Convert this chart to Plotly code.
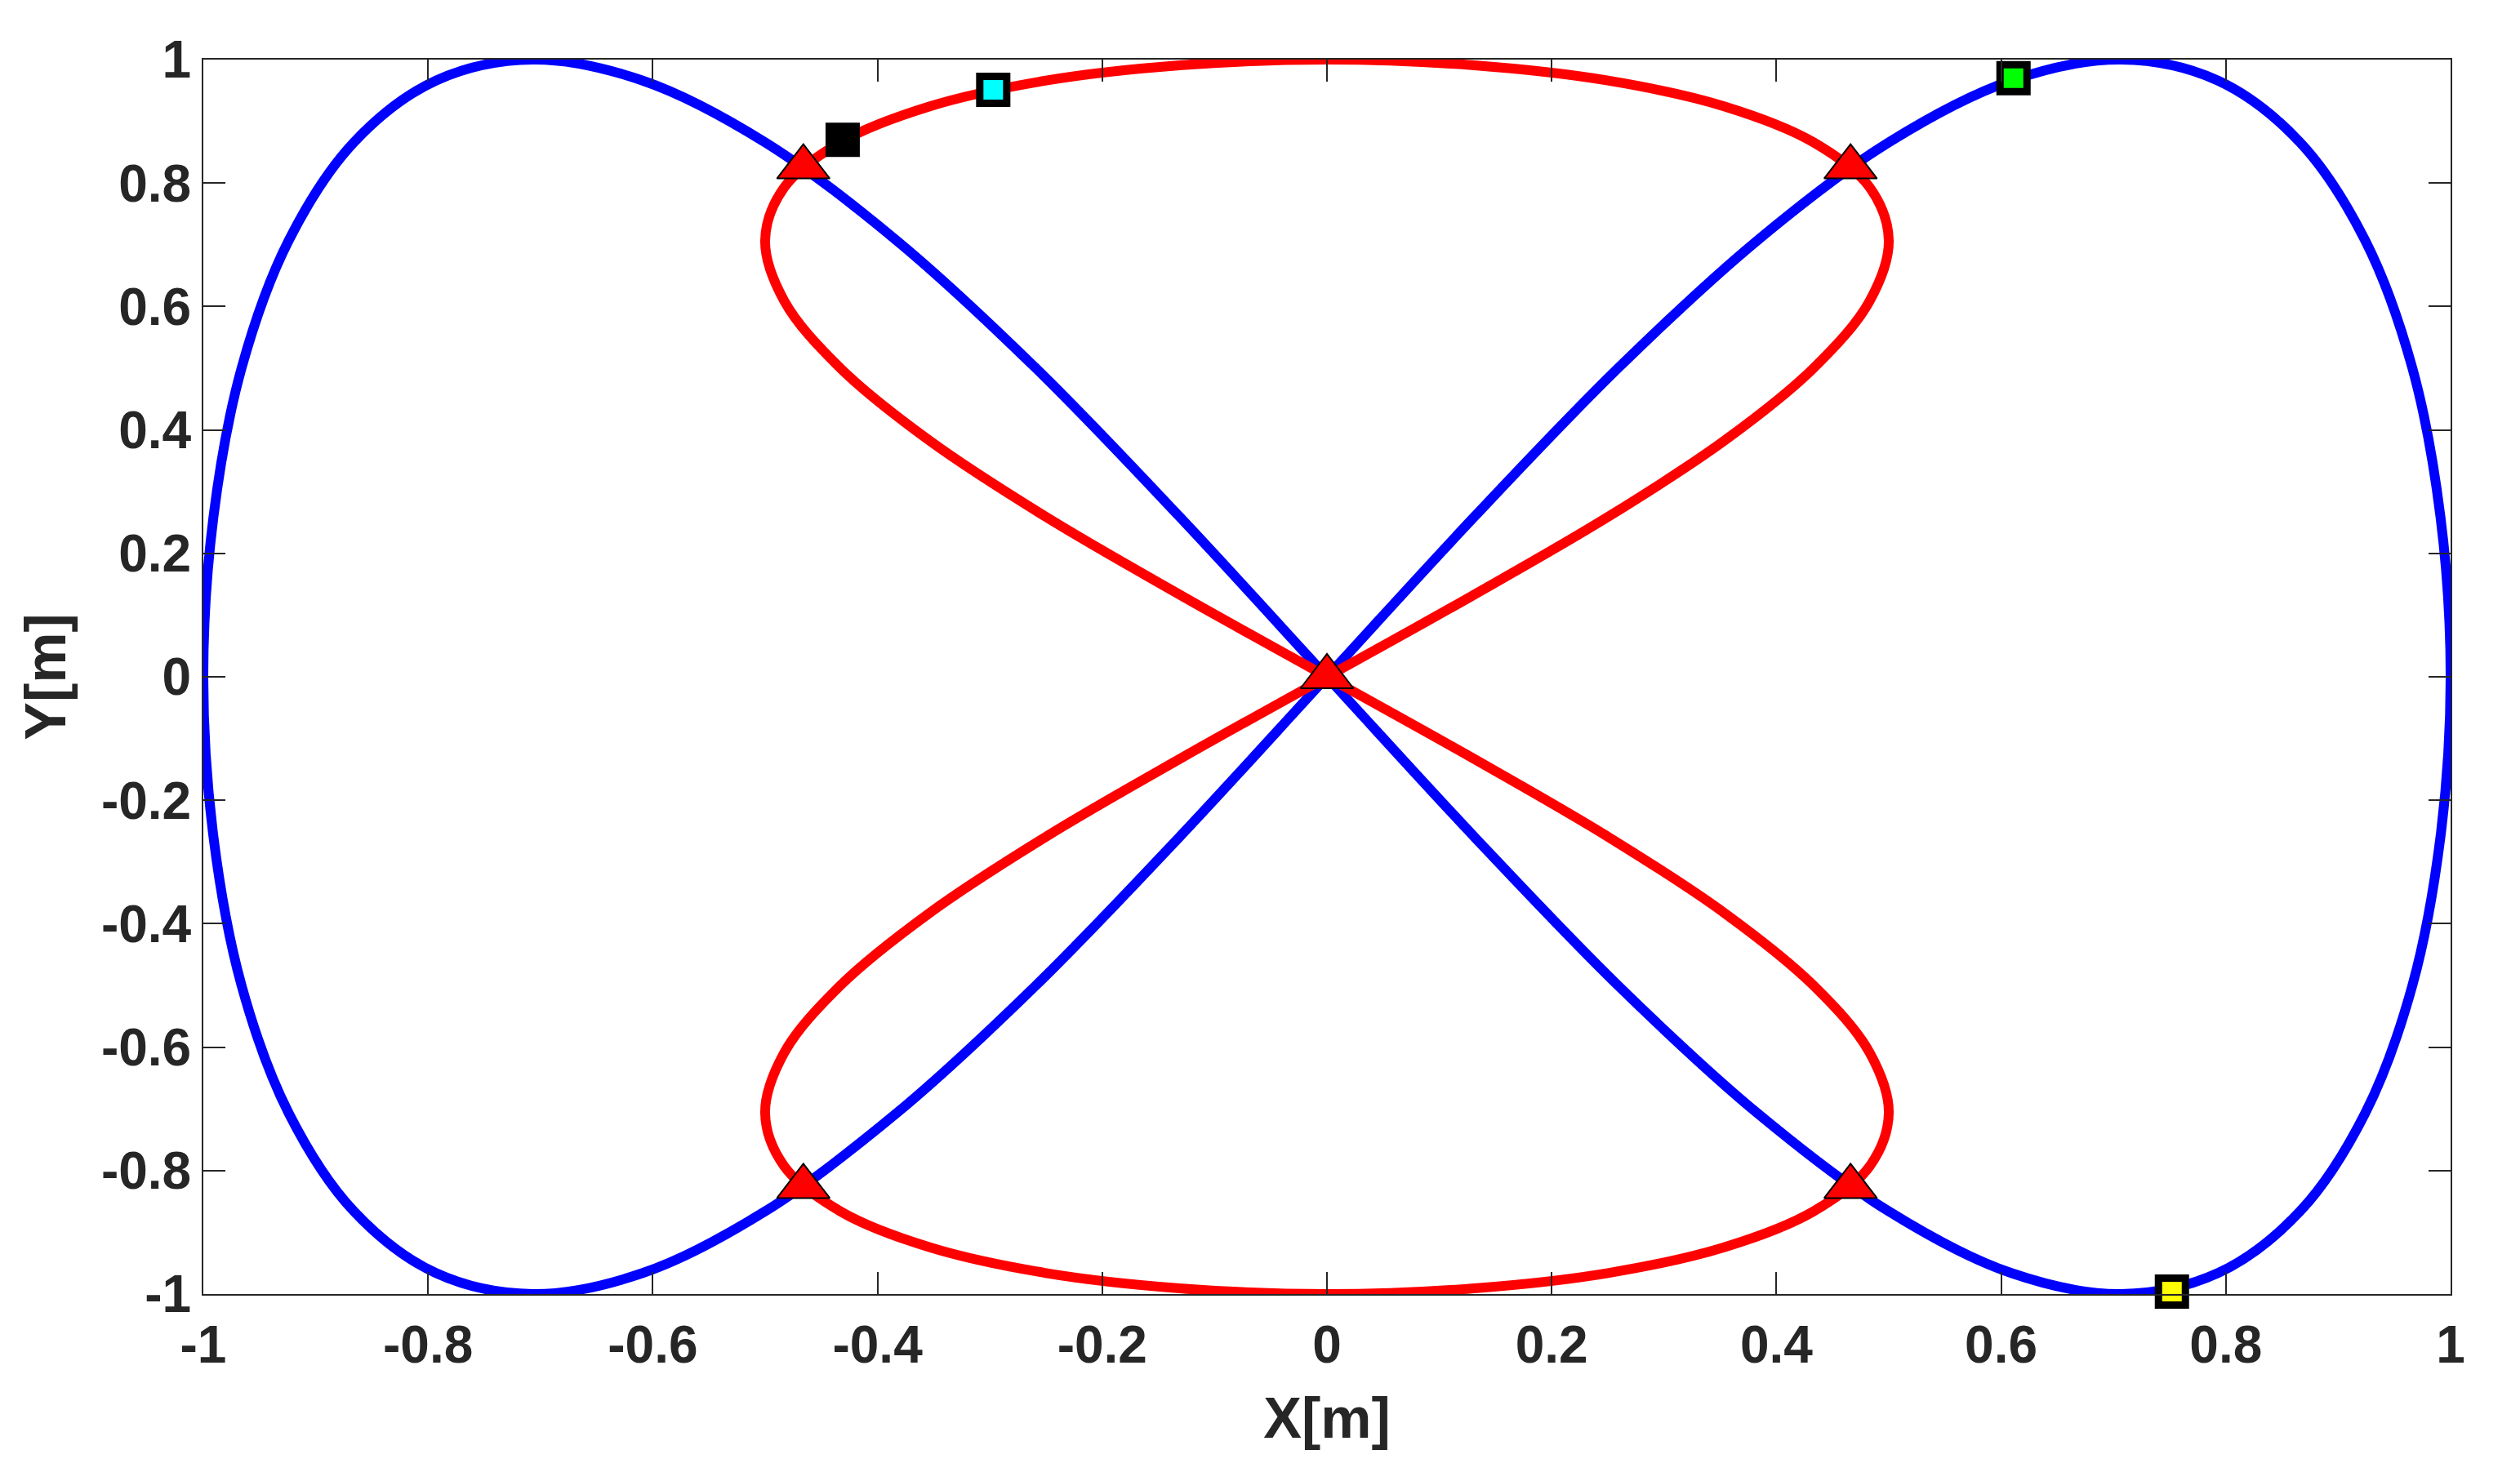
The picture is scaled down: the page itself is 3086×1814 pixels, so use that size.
import plotly.graph_objects as go

# blue figure-eight (lobes left/right)
blue_x = [0, 0.131, 0.259, 0.383, 0.5, 0.609, 0.707, 0.793, 0.866, 0.924, 0.966, 0.991, 1,
          0.991, 0.966, 0.924, 0.866, 0.793, 0.707, 0.609, 0.5, 0.383, 0.259, 0.131, 0,
          -0.131, -0.259, -0.383, -0.5, -0.609, -0.707, -0.793, -0.866, -0.924, -0.966, -0.991, -1,
          -0.991, -0.966, -0.924, -0.866, -0.793, -0.707, -0.609, -0.5, -0.383, -0.259, -0.131, 0]
blue_y = [0, 0.259, 0.5, 0.707, 0.866, 0.966, 1, 0.966, 0.866, 0.707, 0.5, 0.259, 0,
          -0.259, -0.5, -0.707, -0.866, -0.966, -1, -0.966, -0.866, -0.707, -0.5, -0.259, 0,
          0.259, 0.5, 0.707, 0.866, 0.966, 1, 0.966, 0.866, 0.707, 0.5, 0.259, 0,
          -0.259, -0.5, -0.707, -0.866, -0.966, -1, -0.966, -0.866, -0.707, -0.5, -0.259, 0]

# red figure-eight (lobes up/down)
red_x = [0, 0.129, 0.25, 0.354, 0.433, 0.483, 0.5, 0.483, 0.433, 0.354, 0.25, 0.129, 0,
         -0.129, -0.25, -0.354, -0.433, -0.483, -0.5, -0.483, -0.433, -0.354, -0.25, -0.129, 0,
         0.129, 0.25, 0.354, 0.433, 0.483, 0.5, 0.483, 0.433, 0.354, 0.25, 0.129, 0,
         -0.129, -0.25, -0.354, -0.433, -0.483, -0.5, -0.483, -0.433, -0.354, -0.25, -0.129, 0]
red_y = [0, 0.131, 0.259, 0.383, 0.5, 0.609, 0.707, 0.793, 0.866, 0.924, 0.966, 0.991, 1,
         0.991, 0.966, 0.924, 0.866, 0.793, 0.707, 0.609, 0.5, 0.383, 0.259, 0.131, 0,
         -0.131, -0.259, -0.383, -0.5, -0.609, -0.707, -0.793, -0.866, -0.924, -0.966, -0.991, -1,
         -0.991, -0.966, -0.924, -0.866, -0.793, -0.707, -0.609, -0.5, -0.383, -0.259, -0.131, 0]

# crossing points (triangles)
cross_x = [0, -0.466, 0.466, -0.466, 0.466]
cross_y = [0, 0.826, 0.826, -0.826, -0.826]

# square markers
sq_x = [-0.431, -0.297, 0.611, 0.752]
sq_y = [0.870, 0.951, 0.970, -0.996]
sq_fill = ["#000000", "#00FFFF", "#00FF00", "#FFFF00"]

tick_vals = [-1, -0.8, -0.6, -0.4, -0.2, 0, 0.2, 0.4, 0.6, 0.8, 1]
tick_text = ["-1", "-0.8", "-0.6", "-0.4", "-0.2", "0", "0.2", "0.4", "0.6", "0.8", "1"]

fig = go.Figure()
fig.add_trace(go.Scatter(x=blue_x, y=blue_y, mode="lines",
                         line=dict(color="#0000FF", width=12, shape="spline", smoothing=1)))
fig.add_trace(go.Scatter(x=red_x, y=red_y, mode="lines",
                         line=dict(color="#FF0000", width=12, shape="spline", smoothing=1)))
fig.add_trace(go.Scatter(x=cross_x, y=cross_y, mode="markers", cliponaxis=False,
                         marker=dict(symbol="triangle-up", size=56, color="#FF0000",
                                     line=dict(color="#000000", width=2))))
fig.add_trace(go.Scatter(x=sq_x, y=sq_y, mode="markers", cliponaxis=False,
                         marker=dict(symbol="square", size=33, color=sq_fill,
                                     line=dict(color="#000000", width=9))))

tick_font = dict(family="Liberation Sans, Arial", size=64, color="#262626", weight="bold")
title_font = dict(family="Liberation Sans, Arial", size=70, color="#262626", weight="bold")
axis_style = dict(range=[-1, 1], tickmode="array", tickvals=tick_vals, ticktext=tick_text,
                  showgrid=False, zeroline=False, showline=True, linewidth=2, linecolor="#262626",
                  mirror="ticks", ticks="inside", ticklen=27, tickwidth=2, tickcolor="#262626",
                  tickfont=tick_font)

fig.update_xaxes(**axis_style, ticklabelstandoff=5,
                 title=dict(text="X[m]", font=title_font, standoff=30))
fig.update_yaxes(**axis_style, title=dict(text="Y[m]", font=title_font, standoff=20))

# the page body adds 8px around the plot div
fig.update_layout(
    width=3070, height=1798,
    margin=dict(l=241, r=77, t=65, b=221),
    plot_bgcolor="white", paper_bgcolor="white",
    showlegend=False,
)

fig.write_html("out.html")
